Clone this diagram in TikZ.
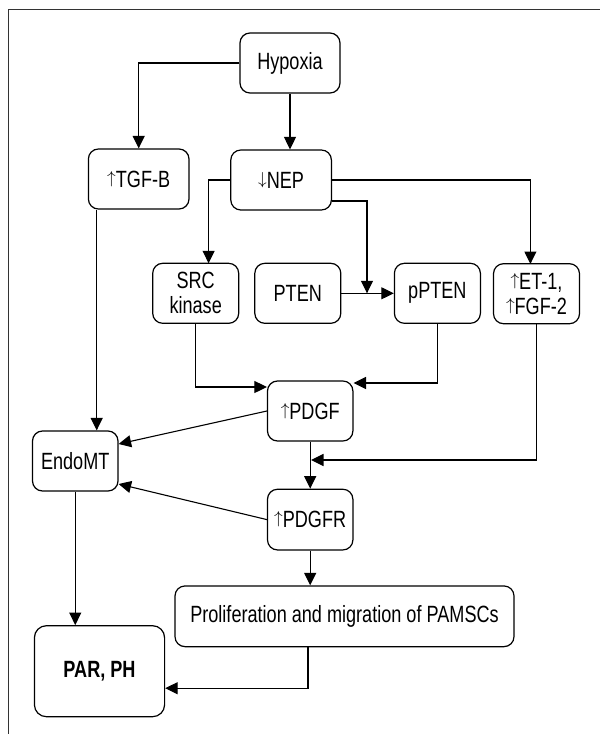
\documentclass[tikz,border=0pt]{standalone}
\usepackage{fontspec}
\setmainfont{Liberation Sans}[FakeStretch=0.77]
\usetikzlibrary{arrows.meta,calc}
\newcommand\upar{\raisebox{3.9pt}{\fontsize{19}{19}\selectfont$\uparrow$}}
\newcommand\dnar{\raisebox{3.9pt}{\fontsize{19}{19}\selectfont$\downarrow$}}
\begin{document}
\begin{tikzpicture}[x=1pt,y=-1pt,
  box/.style={draw, rounded corners=10pt, line width=1.2pt, inner sep=0pt, align=center,
    font=\fontsize{23.5}{25}\selectfont},
  sbox/.style={box, minimum width=86pt, minimum height=60pt},
  conn/.style={line width=1.1pt, -{Triangle[length=12.5pt,width=12pt]}}]
\useasboundingbox (0,0) rectangle (600,734);
\draw[line width=1.6pt, draw=black!80] (600,9.3) -- (8.3,9.3) -- (8.3,734);

\node[box, minimum width=100pt, minimum height=60pt] (hyp) at (290,63) {Hypoxia};
\node[box, minimum width=100.6pt, minimum height=60pt] (tgf) at (138.7,179) {\upar TGF-B};
\node[box, minimum width=100.6pt, minimum height=60pt] (nep) at (281.1,180) {\dnar NEP};
\node[sbox] (src) at (195.7,293.3) {SRC\\kinase};
\node[sbox] (pten) at (297.8,293.3) {PTEN};
\node[sbox] (ppten) at (437.4,293.3) {pPTEN};
\node[sbox] (et) at (536.5,293.7) {\upar ET-1,\\\upar FGF-2};
\node[box, minimum width=85.4pt, minimum height=60pt] (pdgf) at (310.2,411) {\upar PDGF};
\node[box, minimum width=85.5pt, minimum height=60pt] (endo) at (75.25,461) {EndoMT};
\node[box, minimum width=85.4pt, minimum height=60.7pt] (pdgfr) at (310.2,519.6) {\upar PDGFR};
\node[box, minimum width=339pt, minimum height=60.7pt] (prolif) at (344.5,616.3) {Proliferation and migration of PAMSCs};
\node[box, rounded corners=12pt, minimum width=130.2pt, minimum height=91pt] (par) at (99.5,671.2) {\textbf{PAR, PH}};

\coordinate (srcin) at (208.6,263.3);
\coordinate (etin) at (530.4,264);
\coordinate (j1) at (367,293.3);
\coordinate (j2) at (311,460);

\draw[conn] (hyp.west) -| (tgf.north);
\draw[conn] (hyp.south) -- (hyp.south |- nep.north);
\draw[conn] (nep.west) -| (srcin);
\draw[conn] ([yshift=-21pt]nep.east) -| (j1);
\draw[conn] (nep.east) -| (etin);
\draw[conn] ([xshift=-42pt]tgf.south) -- ([xshift=-42pt]tgf.south |- endo.north);
\draw[conn] (pten.east) -- (ppten.west);
\draw[conn] (src.south) |- ([yshift=24pt]pdgf.west);
\draw[conn] (ppten.south) |- ([yshift=28pt]pdgf.east);
\draw[conn] (pdgf.west) -- ([yshift=17pt]endo.east);
\draw[conn] (pdgf.south) -- (pdgfr.north);
\draw[conn] (et.south) |- (j2);
\draw[conn] (pdgfr.west) -- ([yshift=-23pt]endo.east);
\draw[conn] (pdgfr.south) -- (pdgfr.south |- prolif.north);
\draw[conn] (endo.south) -- (endo.south |- par.north);
\draw[conn] ([xshift=-36.5pt]prolif.south) |- ([yshift=-17pt]par.east);
\end{tikzpicture}
\end{document}
